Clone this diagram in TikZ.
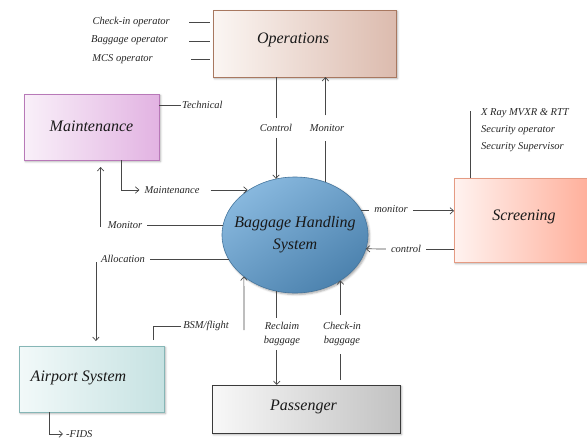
\documentclass[tikz,border=0pt]{standalone}
\usepackage{fontspec}
\setmainfont{Liberation Serif}
\usetikzlibrary{arrows.meta,shadows.blur,calc,shapes.geometric}

\definecolor{opsL}{HTML}{FBF6F3}\definecolor{opsR}{HTML}{DCBBAE}\definecolor{opsB}{HTML}{A87860}
\definecolor{mntL}{HTML}{F9F0F9}\definecolor{mntR}{HTML}{E2B3E2}\definecolor{mntB}{HTML}{B879B8}
\definecolor{scrL}{HTML}{FFF3F0}\definecolor{scrR}{HTML}{FFB09C}\definecolor{scrB}{HTML}{E59B83}
\definecolor{airL}{HTML}{F2F9F9}\definecolor{airR}{HTML}{C6E2E2}\definecolor{airB}{HTML}{86B6B6}
\definecolor{pasL}{HTML}{F8F8F8}\definecolor{pasR}{HTML}{C2C2C2}\definecolor{pasB}{HTML}{3A3A3A}
\definecolor{bhsT}{HTML}{88B8DE}\definecolor{bhsB}{HTML}{4C82AE}

\begin{document}
\begin{tikzpicture}[x=1pt,y=-1pt,
  font=\itshape\fontsize{10.5}{12}\selectfont,
  shadowed/.style={blur shadow={shadow xshift=1.5pt,shadow yshift=-1.5pt,
      shadow blur radius=2pt,shadow opacity=35}},
  box/.style={rectangle,line width=0.8pt,inner sep=0pt,outer sep=0pt,shadowed},
  title/.style={font=\itshape\fontsize{16}{19}\selectfont,text=black!90},
  conn/.style={draw=black!72,line width=0.7pt},
  arr/.style={conn,-{Straight Barb[length=3.5pt,width=6.5pt]}},
  lbl/.style={inner xsep=5pt,inner ysep=4pt,text=black!85},
]
\useasboundingbox (0,0) rectangle (587,445);

% --- main blocks ---
\node[box,draw=opsB,left color=opsL,right color=opsR,minimum width=183pt,minimum height=67pt,
  label={[title,xshift=-11.5pt,yshift=3.5pt]center:Operations}] (ops) at (304.5,43.5) {};
\node[box,draw=mntB,left color=mntL,right color=mntR,minimum width=135pt,minimum height=66pt,
  label={[title,yshift=1pt]center:Maintenance}] (maint) at (91.5,127) {};
\node[box,draw=scrB,left color=scrL,right color=scrR,minimum width=133pt,minimum height=84pt,
  label={[title,xshift=3.5pt,yshift=3pt]center:Screening}] (scr) at (520.5,220) {};
\node[box,draw=airB,left color=airL,right color=airR,minimum width=145pt,minimum height=66pt,
  label={[title,xshift=-13pt,yshift=1pt]center:Airport System}] (air) at (91.5,379) {};
\node[box,draw=pasB,left color=pasL,right color=pasR,minimum width=188pt,minimum height=48pt,
  label={[title,xshift=-2.5pt,yshift=2pt]center:Passenger}] (pass) at (306,409) {};
\node[ellipse,draw=bhsB!90!black,line width=0.6pt,inner sep=0pt,outer sep=0pt,shadowed,
  top color=bhsT,bottom color=bhsB,shading angle=35,
  minimum width=146pt,minimum height=116pt,
  label={[title,align=center,font=\itshape\fontsize{16}{22}\selectfont]center:Baggage Handling\\System}]
  (bhs) at (295,235) {};

% --- operators feeding Operations ---
\node[anchor=east,inner sep=0pt,text=black!85] (chkop) at (170,22) {Check-in operator};
\node[anchor=east,inner sep=0pt,text=black!85] (bagop) at (168,40) {Baggage operator};
\node[anchor=east,inner sep=0pt,text=black!85] (mcsop) at (153,59) {MCS operator};
\draw[conn] ($(chkop.east)+(19,0)$) -- ($(chkop.east -| ops.west)+(-3,0)$);
\draw[conn] ($(bagop.east)+(21,1)$) -- ($(bagop.east -| ops.west)+(-3,1)$);
\draw[conn] ($(mcsop.east)+(38,0)$) -- ($(mcsop.east -| ops.west)+(-3,0)$);

% --- Maintenance ---
\node[anchor=west,inner sep=1pt,text=black!85] (tech) at (181,105) {Technical};
\draw[conn] (tech.west -| maint.east) -- (tech.west);

\node[lbl] (mnt) at (172,190) {Maintenance};
\draw[arr] ($(maint.south)+(29.5,0)$) |- (mnt.west);
\draw[arr] ($(mnt.east)+(6,0)$) -- (bhs.137 |- mnt.east);

\node[lbl] (monmt) at (125,225) {Monitor};
\draw[conn] (bhs.172.9) -- (bhs.172.9 -| monmt.east);
\draw[arr] ($(monmt.west)+(-2,2)$) -- ($(monmt.west |- maint.south)+(-2,7)$);

% --- Operations <-> BHS ---
\node[lbl,inner ysep=6pt] (ctrl) at (276,128) {Control};
\draw[conn] (ctrl.north |- ops.south) -- (ctrl.north);
\draw[arr] (ctrl.south) -- (ctrl.south |- bhs.108.7);

\node[lbl,inner ysep=9pt] (monop) at (327,128) {Monitor};
\draw[conn] (bhs.60.4) -- (bhs.60.4 |- monop.south);
\draw[arr] (bhs.60.4 |- monop.north) -- (bhs.60.4 |- ops.south);

% --- Airport System ---
\node[lbl] (alloc) at (123,259) {Allocation};
\draw[conn] (bhs.200.8) -- (bhs.200.8 -| alloc.east);
\draw[arr] ($(alloc.west)+(0,3)$) -- ($(alloc.west |- air.north)+(0,-5)$);

\node[lbl,inner xsep=2pt] (bsm) at (206,326) {BSM/flight};
\draw[conn] ($(air.north)+(61.5,-6)$) |- (bsm.west);
\coordinate (bsmfoot) at (244,330);
\draw[arr] (bsmfoot) -- (bhs.219.1);

\node[lbl,anchor=west,inner xsep=3pt] (fids) at (63,434) {-FIDS};
\draw[arr] ($(air.south)+(-42.5,0)$) |- (fids.west);

% --- Passenger ---
\node[lbl,align=center,font=\itshape\fontsize{10.5}{14}\selectfont] (recl) at (282,334) {Reclaim\\baggage};
\draw[conn] (bhs.252.2) -- (bhs.252.2 |- recl.north);
\draw[arr] (bhs.252.2 |- recl.south) -- (bhs.252.2 |- pass.north);

\node[lbl,align=center,font=\itshape\fontsize{10.5}{14}\selectfont] (chkb) at (342,334) {Check-in\\baggage};
\draw[conn] ($(bhs.-45.5 |- pass.north)+(0,-5)$) -- ($(bhs.-45.5 |- chkb.south)+(0,4)$);
\draw[arr] ($(bhs.-45.5 |- chkb.north)+(0,-3)$) -- (bhs.-45.5);

% --- Screening ---
\node[lbl] (monsc) at (391,209) {monitor};
\draw[conn] (bhs.20.8) -- (bhs.20.8 -| monsc.west);
\draw[arr] (bhs.20.8 -| monsc.east) -- (bhs.20.8 -| scr.west);

\node[lbl] (ctrsc) at (406,249) {control};
\draw[conn] (ctrsc.east -| scr.west) -- (ctrsc.east);
\draw[arr] (ctrsc.west) -- (bhs.-11.2);

\node[anchor=west,align=left,inner sep=0pt,text=black!85,
  font=\itshape\fontsize{10.5}{17}\selectfont] (sec) at (481,130)
  {X Ray MVXR \& RTT\\Security operator\\Security Supervisor};
\draw[conn] ($(sec.west |- scr.north)+(-11,0)$) -- ($(sec.north west)+(-11,3)$);
\end{tikzpicture}
\end{document}
